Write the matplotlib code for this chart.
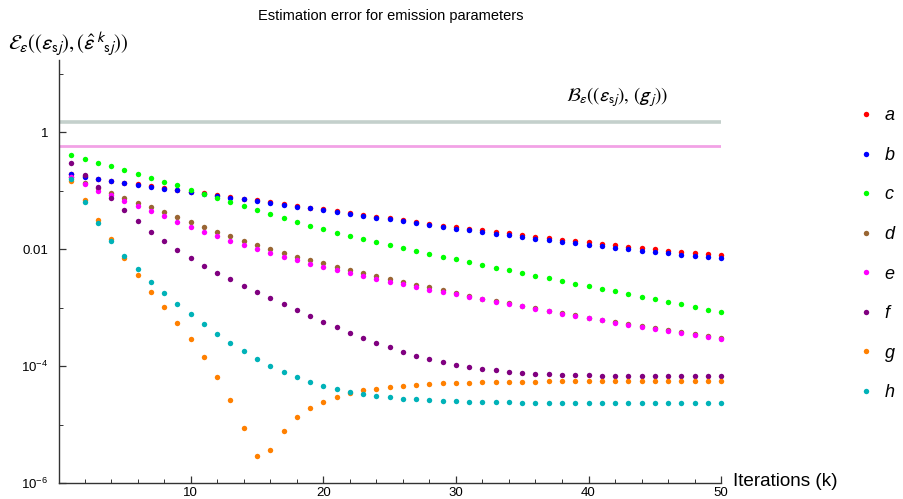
import matplotlib
matplotlib.use("Agg")
import matplotlib.pyplot as plt
from matplotlib.ticker import FixedLocator, NullFormatter

plt.rcParams['font.family'] = ['Liberation Sans', 'DejaVu Sans']
plt.rcParams['mathtext.fontset'] = 'custom'
plt.rcParams['mathtext.rm'] = 'Liberation Sans'
plt.rcParams['mathtext.it'] = 'Liberation Sans:italic'
plt.rcParams['mathtext.fallback'] = 'stix'

iterations = list(range(1, 51))

series_a = [0.1940, 0.1770, 0.1614, 0.1492, 0.1379, 0.1292, 0.1194, 0.1103, 0.1033, 0.0968,
            0.0906, 0.0849, 0.0785, 0.0735, 0.0688, 0.0636, 0.0596, 0.0550, 0.0516, 0.0489,
            0.0452, 0.0418, 0.0386, 0.0362, 0.0339, 0.0313, 0.0293, 0.0271, 0.0254, 0.0238,
            0.0226, 0.0211, 0.0200, 0.0188, 0.0176, 0.0165, 0.0156, 0.0146, 0.0139, 0.0132,
            0.0123, 0.0117, 0.0111, 0.01054, 0.0100, 0.00949, 0.00900, 0.00854, 0.00821, 0.00790]
series_b = [0.1915, 0.1747, 0.1594, 0.1473, 0.1361, 0.1274, 0.1178, 0.1089, 0.1020, 0.0943,
            0.0883, 0.0827, 0.0764, 0.0716, 0.0670, 0.0619, 0.0580, 0.0536, 0.0502, 0.0470,
            0.0435, 0.0402, 0.0371, 0.0348, 0.0326, 0.0301, 0.0282, 0.0261, 0.0244, 0.0226,
            0.0211, 0.0198, 0.0185, 0.0174, 0.0163, 0.0152, 0.0144, 0.0135, 0.01266, 0.01202,
            0.01140, 0.01068, 0.01013, 0.00949, 0.00900, 0.00854, 0.00811, 0.00769, 0.00739, 0.00711]
series_c = [0.410, 0.350, 0.303, 0.262, 0.227, 0.194, 0.168, 0.1435, 0.124, 0.1033,
            0.0895, 0.0754, 0.0636, 0.0543, 0.0464, 0.0397, 0.0339, 0.0293, 0.0254, 0.0223,
            0.01927, 0.01690, 0.01482, 0.01317, 0.01171, 0.01040, 0.00937, 0.00832, 0.00749, 0.00675,
            0.00600, 0.00540, 0.00486, 0.00438, 0.00394, 0.00355, 0.00319, 0.00287, 0.00259, 0.00236,
            0.00213, 0.00191, 0.00172, 0.00155, 0.00140, 0.00127, 0.00115, 0.00103, 0.000930, 0.000838]
series_d = [0.1747, 0.1343, 0.1103, 0.0930, 0.0754, 0.0628, 0.0522, 0.0429, 0.0352, 0.0293,
            0.0241, 0.0200, 0.0167, 0.01406, 0.01186, 0.01013, 0.00866, 0.00749, 0.00657, 0.00576,
            0.00499, 0.00443, 0.00389, 0.00346, 0.00311, 0.00276, 0.00249, 0.00224, 0.00202, 0.00177,
            0.00159, 0.00143, 0.00131, 0.00119, 0.00109, 0.000981, 0.000894, 0.000816, 0.000744, 0.000679,
            0.000628, 0.000573, 0.000529, 0.000483, 0.000446, 0.000412, 0.000381, 0.000352, 0.000326, 0.000301]
series_e = [0.1724, 0.1309, 0.1006, 0.0849, 0.0670, 0.0550, 0.0446, 0.0366, 0.0297, 0.0244,
            0.0200, 0.0167, 0.01406, 0.01186, 0.0100, 0.00854, 0.00739, 0.00649, 0.00569, 0.00499,
            0.00443, 0.00394, 0.00350, 0.00311, 0.00280, 0.00252, 0.00227, 0.00204, 0.00187, 0.00170,
            0.00155, 0.00140, 0.00127, 0.00116, 0.00106, 0.000955, 0.000871, 0.000795, 0.000725, 0.000661,
            0.000611, 0.000558, 0.000516, 0.000470, 0.000435, 0.000402, 0.000371, 0.000343, 0.000317, 0.000293]
series_f = [0.299, 0.1865, 0.1178, 0.0744, 0.0470, 0.0305, 0.0200, 0.01388, 0.00974, 0.00711,
            0.00526, 0.00399, 0.00307, 0.00236, 0.00184, 0.001454, 0.001148, 0.000906, 0.000725, 0.000580,
            0.000464, 0.000376, 0.000305, 0.000254, 0.000211, 0.000178, 0.000152, 0.0001335, 0.0001186, 0.0001068,
            9.74e-5, 9.00e-5, 8.54e-5, 8.11e-5, 7.79e-5, 7.49e-5, 7.30e-5, 7.20e-5, 7.11e-5, 7.02e-5,
            6.93e-5, 6.93e-5, 6.93e-5, 6.93e-5, 6.93e-5, 6.93e-5, 6.84e-5, 6.84e-5, 6.84e-5, 6.84e-5]
series_g = [0.1492, 0.0688, 0.0317, 0.01482, 0.00720, 0.00364, 0.00189, 0.00102, 0.000543, 0.000289,
            0.0001425, 6.66e-5, 2.69e-5, 8.83e-6, 2.97e-6, 3.71e-6, 7.84e-6, 1.343e-5, 1.940e-5, 2.49e-5,
            2.99e-5, 3.46e-5, 3.89e-5, 4.15e-5, 4.43e-5, 4.67e-5, 4.86e-5, 4.99e-5, 5.12e-5, 5.26e-5,
            5.26e-5, 5.33e-5, 5.40e-5, 5.40e-5, 5.47e-5, 5.47e-5, 5.54e-5, 5.54e-5, 5.54e-5, 5.54e-5,
            5.54e-5, 5.54e-5, 5.54e-5, 5.54e-5, 5.54e-5, 5.54e-5, 5.54e-5, 5.54e-5, 5.54e-5, 5.54e-5]
series_h = [0.1594, 0.0636, 0.0286, 0.01406, 0.00759, 0.00455, 0.00280, 0.00177, 0.001163, 0.000784,
            0.000522, 0.000362, 0.000254, 0.000183, 0.0001353, 0.0001026, 8.11e-5, 6.49e-5, 5.40e-5, 4.67e-5,
            4.10e-5, 3.64e-5, 3.37e-5, 3.11e-5, 2.95e-5, 2.80e-5, 2.73e-5, 2.66e-5, 2.59e-5, 2.52e-5,
            2.49e-5, 2.46e-5, 2.42e-5, 2.42e-5, 2.39e-5, 2.39e-5, 2.39e-5, 2.36e-5, 2.36e-5, 2.36e-5,
            2.36e-5, 2.36e-5, 2.36e-5, 2.36e-5, 2.36e-5, 2.36e-5, 2.36e-5, 2.36e-5, 2.36e-5, 2.36e-5]

series_labels = ['a', 'b', 'c', 'd', 'e', 'f', 'g', 'h']
series_colors = ['#ff0000', '#0000ff', '#00ff00', '#996633', '#ff00ff', '#800080', '#ff8000', '#00b2b8']
bound_grey = 1.52
bound_pink = 0.59

x_major = [10, 20, 30, 40, 50]
x_minor = [k for k in range(2, 50, 2) if k % 10 != 0]
y_major = [1, 0.01, 1e-4, 1e-6]
y_major_labels = ['1', '0.01', '$10^{-4}$', '$10^{-6}$']
y_minor = [10, 0.1, 1e-3, 1e-5]

fig = plt.figure(figsize=(9.04, 4.99), dpi=100)
ax = fig.add_axes([0.0657, 0.0315, 0.732, 0.848])

ax.axhline(bound_grey, color='#c4d0cc', lw=2.6, zorder=1)
ax.axhline(bound_pink, color='#f2a2e6', lw=2.0, zorder=1)

all_series = [series_a, series_b, series_c, series_d, series_e, series_f, series_g, series_h]
for vals, lab, col in zip(all_series, series_labels, series_colors):
    ax.plot(iterations, vals, ls='none', marker='o', ms=3.9, mew=0, color=col,
            label=lab, clip_on=False, zorder=3)

ax.set_yscale('log')
ax.set_xlim(0.1, 50)
ax.set_ylim(1e-6, 10 ** 1.236)

ax.xaxis.set_major_locator(FixedLocator(x_major))
ax.xaxis.set_minor_locator(FixedLocator(x_minor))
ax.set_xticklabels([str(v) for v in x_major])
ax.yaxis.set_major_locator(FixedLocator(y_major))
ax.yaxis.set_minor_locator(FixedLocator(y_minor))
ax.set_yticklabels(y_major_labels)
ax.yaxis.set_minor_formatter(NullFormatter())

for s in ['top', 'right']:
    ax.spines[s].set_visible(False)
for s in ['left', 'bottom']:
    ax.spines[s].set_color('#333333')
    ax.spines[s].set_linewidth(1.0)
ax.tick_params(which='major', direction='in', length=5, width=0.9, color='#333333',
               labelsize=9.5)
ax.tick_params(axis='y', which='major', pad=8)
ax.tick_params(axis='x', which='major', pad=3)
ax.tick_params(which='minor', direction='in', length=3, width=0.7, color='#333333')

fig.text(0.432, 0.967, 'Estimation error for emission parameters', ha='center', va='center',
         fontsize=10.5)
fig.text(0.009, 0.91,
         r'$\mathcal{E}_{\epsilon}((\epsilon_{\mathrm{s}j}),(\hat{\epsilon}^{\,k}{}_{\mathrm{s}j}))$',
         ha='left', va='center', fontsize=15, math_fontfamily='stixsans')
ax.text(46.0, 4.0, r'$\mathcal{B}_{\epsilon}((\epsilon_{\mathrm{s}j}),\,(g_{\,j}))$',
        ha='right', va='center', fontsize=13.5, math_fontfamily='stixsans')
fig.text(0.811, 0.036, 'Iterations (k)', ha='left', va='center', fontsize=13.6)

leg = fig.legend(loc='upper left', bbox_to_anchor=(0.9516, 0.785), frameon=False,
                 prop={'style': 'italic', 'size': 13}, handlelength=0.6,
                 handletextpad=0.75, labelspacing=1.25, markerscale=1.0,
                 borderaxespad=0, borderpad=0)

fig.savefig('out.png', dpi=100)
